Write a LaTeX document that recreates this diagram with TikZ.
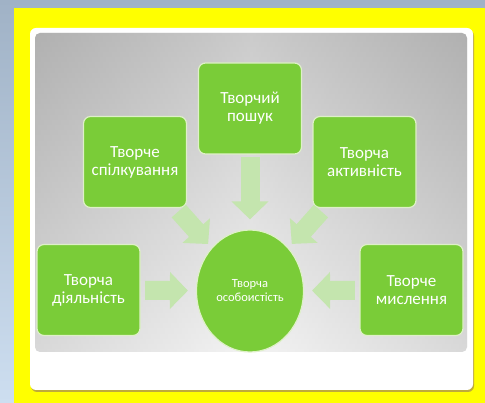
\documentclass[tikz,border=0pt]{standalone}
\usepackage{fontspec}
\setmainfont{Carlito}
\usetikzlibrary{arrows.meta,shapes.geometric}
\definecolor{boxgreen}{RGB}{122,204,56}
\definecolor{boxedge}{RGB}{222,240,200}
\definecolor{arrgreen}{RGB}{196,229,174}
\definecolor{yel}{RGB}{255,255,0}
\definecolor{bgtop}{RGB}{160,178,198}
\definecolor{bgbot}{RGB}{205,222,240}
\definecolor{cardshadow}{RGB}{190,170,60}
\begin{document}
\begin{tikzpicture}[x=1pt,y=-1pt,
  box/.style={draw=boxedge, line width=1.2pt, fill=boxgreen, rounded corners=7pt,
    minimum width=103pt, minimum height=91pt, text=white, align=center,
    font=\fontsize{17}{18}\selectfont, inner sep=0pt},
  blk/.style={draw=arrgreen, line width=19pt, -{Triangle[width=36pt,length=18pt]}}
]
\useasboundingbox (0,0) rectangle (485,403);
\shade[top color=bgtop, bottom color=bgbot] (0,0) rectangle (485,403);
\fill[yel] (14,8) rectangle (485,403);
\fill[cardshadow, rounded corners=6pt] (31,30) rectangle (474,392);
\fill[white, rounded corners=6pt] (30,28) rectangle (473,390);
\shade[rounded corners=5pt, top color=gray!62, bottom color=gray!14] (35,33) rectangle (467,352);
\shade[rounded corners=5pt, left color=gray!60, right color=gray!60, middle color=white, opacity=0.35] (35,33) rectangle (467,352);

\node[box] (poshuk) at (250,108.5) {Творчий\\пошук};
\node[box] (spl) at (135,162) {Творче\\спілкування};
\node[box] (akt) at (364.5,162) {Творча\\активність};
\node[box] (dial) at (88.5,290) {Творча\\діяльність};
\node[box] (mysl) at (411.5,290) {Творче\\мислення};
\node[ellipse, draw=boxedge, line width=1.2pt, fill=boxgreen, minimum width=107pt,
  minimum height=122pt, text=white, align=center, inner sep=0pt,
  font=\fontsize{12.5}{14}\selectfont] (c) at (250,291) {Творча\\особоистість};

\draw[blk, shorten <=2.5pt, shorten >=10pt] (poshuk) -- (c);
\draw[blk, shorten <=4.5pt, shorten >=8pt] (dial) -- (c);
\draw[blk, shorten <=4.5pt, shorten >=8pt] (mysl) -- (c);
\draw[blk, shorten <=4pt, shorten >=5pt] (spl) -- (c);
\draw[blk, shorten <=4pt, shorten >=5pt] (akt) -- (c);
\end{tikzpicture}
\end{document}
